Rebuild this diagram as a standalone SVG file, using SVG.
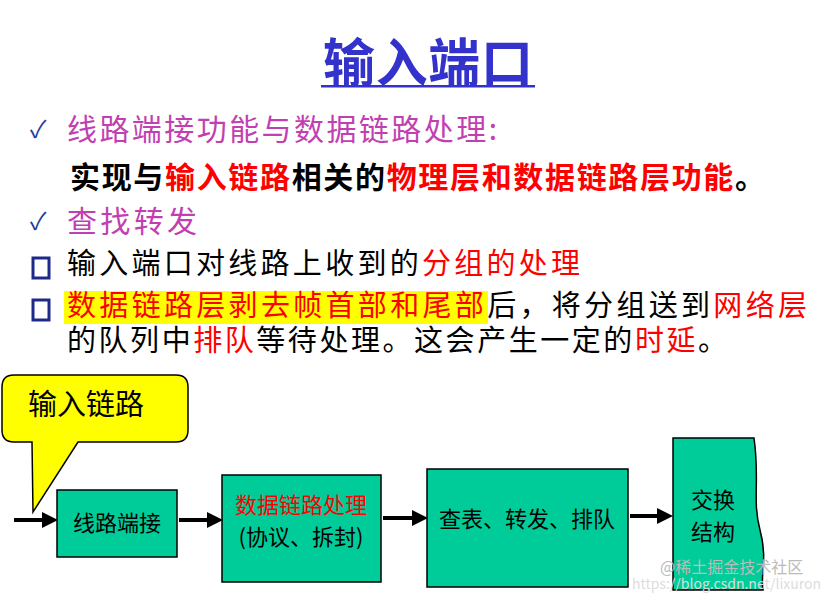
<svg xmlns="http://www.w3.org/2000/svg" width="835" height="594" viewBox="0 0 835 594">
<style>
text{font-family:"Noto Sans CJK SC","Liberation Sans",sans-serif;}
.t{font-size:29px;fill:#000}
.r{fill:#ff0000}
.m{font-size:30px;fill:#c23fb2}
.box{fill:#00cc99;stroke:#000;stroke-width:1.5}
.bt{font-size:22px;fill:#000;text-anchor:middle}
.ar{stroke:#000;stroke-width:4;fill:none;marker-end:url(#ah)}
</style>
<defs>
<marker id="ah" markerWidth="4" markerHeight="4" refX="2.5" refY="2" orient="auto" markerUnits="strokeWidth"><path d="M0,0L4,2L0,4z" fill="#000"/></marker>
</defs>
<rect width="835" height="594" fill="#fff"/>
<text x="323" y="82" textLength="210" style="font-size:52px;font-weight:bold;fill:#3333cc">输入端口</text>
<rect x="321" y="85" width="214" height="2.5" fill="#3333cc"/>
<text x="30" y="138" style="font-size:24px;fill:#1e3ca0">✓</text>
<text x="30" y="230" style="font-size:24px;fill:#1e3ca0">✓</text>
<text class="m" x="67" y="140" textLength="430">线路端接功能与数据链路处理:</text>
<text class="t" x="70" y="188" textLength="695" style="font-weight:bold;font-size:30px">实现与<tspan class="r">输入链路</tspan>相关的<tspan class="r">物理层和数据链路层功能</tspan>。</text>
<text class="m" x="67" y="232" textLength="130">查找转发</text>
<rect x="33" y="258" width="16" height="20" fill="none" stroke="#1e2a8a" stroke-width="3"/>
<rect x="33" y="300" width="16" height="20" fill="none" stroke="#1e2a8a" stroke-width="3"/>
<text class="t" x="67" y="274" textLength="513">输入端口对线路上收到的<tspan class="r">分组的处理</tspan></text>
<rect x="64" y="291" width="424" height="33" fill="#ffff00"/>
<text class="t" x="67" y="316" textLength="740"><tspan class="r">数据链路层剥去帧首部和尾部</tspan>后，将分组送到<tspan class="r">网络层</tspan></text>
<text class="t" x="67" y="351" textLength="660">的队列中<tspan class="r">排队</tspan>等待处理。这会产生一定的<tspan class="r">时延</tspan>。</text>
<g id="callout">
<path d="M14,375 H176 Q188,375 188,387 V430 Q188,442 176,442 H78 L33,512 L32,442 H14 Q2,442 2,430 V387 Q2,375 14,375 Z" fill="#ffff00" stroke="#000" stroke-width="1.5"/>
<text x="28" y="415" style="font-size:29px;fill:#000">输入链路</text>
</g>
<g id="connectors">
<line class="ar" x1="14" y1="520" x2="52" y2="520"/>
<line class="ar" x1="179" y1="520" x2="217" y2="520"/>
<line class="ar" x1="383" y1="518" x2="422" y2="518"/>
<line class="ar" x1="630" y1="516" x2="667" y2="516"/>
</g>
<g id="n1"><rect class="box" x="57" y="490" width="120" height="67"/><text class="bt" x="117" y="531">线路端接</text></g>
<g id="n2"><rect class="box" x="222" y="475" width="159" height="107"/><text class="bt" x="301" y="513" style="fill:#ff0000">数据链路处理</text><text class="bt" x="301" y="545">(协议、拆封)</text></g>
<g id="n3"><rect class="box" x="427" y="469" width="201" height="118"/><text class="bt" x="527" y="527">查表、转发、排队</text></g>
<g id="n4"><path class="box" d="M673,438 H754 C760,480 752,500 760,530 C768,560 760,575 763,590 H673 Z"/><text class="bt" x="713" y="508">交换</text><text class="bt" x="713" y="540">结构</text></g>
<text x="660" y="573" style="font-size:16px;fill:#bbb">@稀土掘金技术社区</text>
<text x="632" y="589" style="font-size:14px;fill:#ddd">https://blog.csdn.net/lixuron</text>
</svg>
